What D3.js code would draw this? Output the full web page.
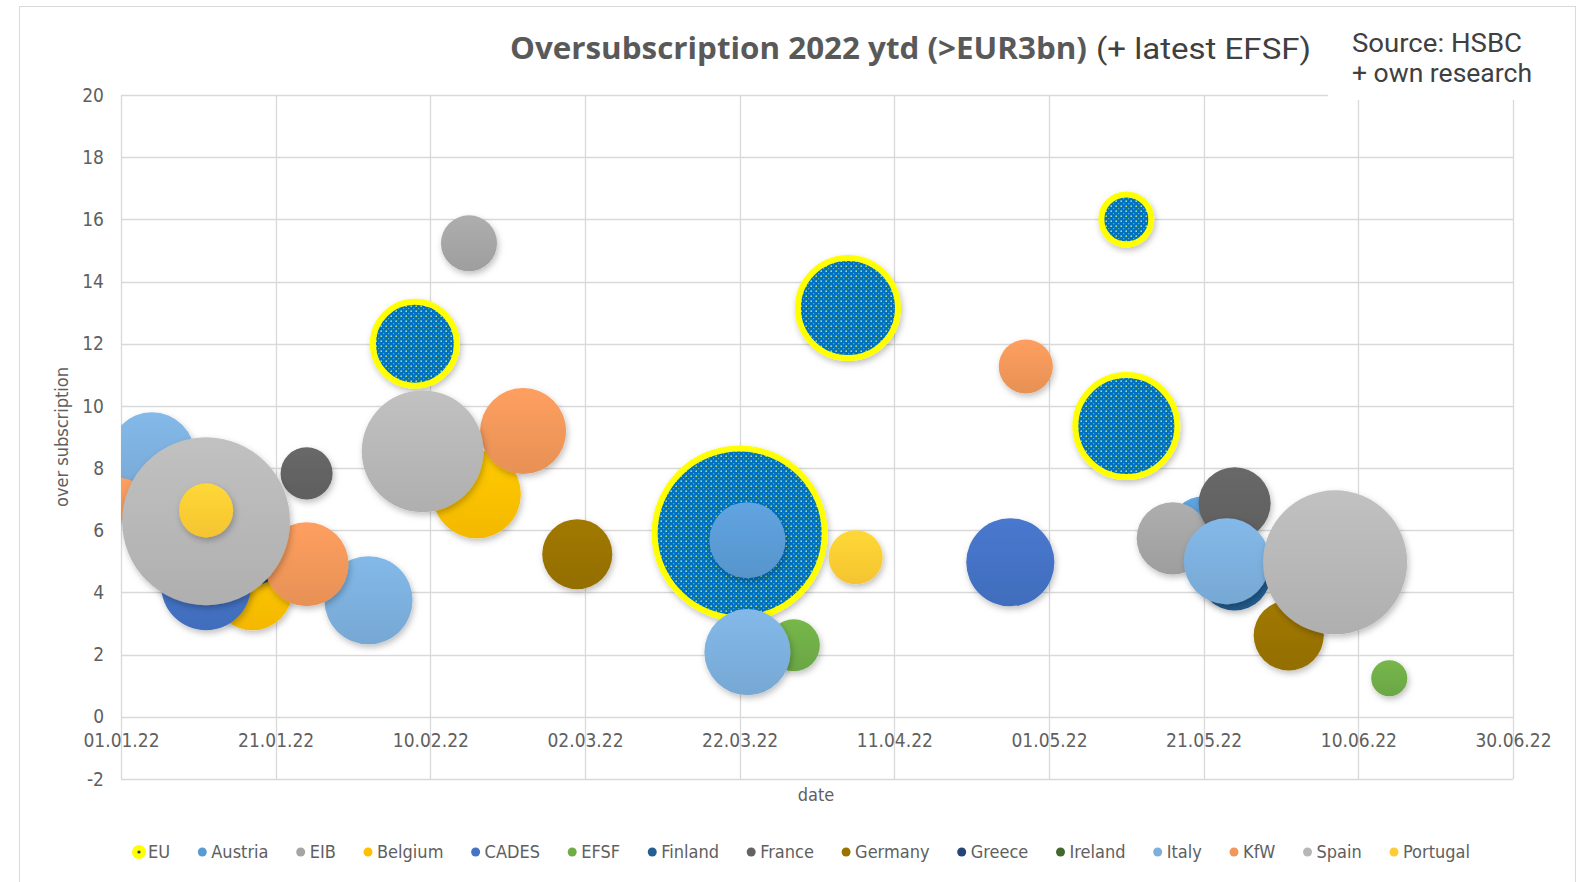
<!DOCTYPE html>
<html>
<head>
<meta charset="utf-8">
<script src="https://cdn.jsdelivr.net/npm/d3@7"></script>
<style>
  body { margin: 0; background: #fff; }
  svg { display: block; }
</style>
</head>
<body>
<script>
// series, in legend / drawing order
var seriesNames = ["EU", "Austria", "EIB", "Belgium", "CADES", "EFSF", "Finland", "France",
  "Germany", "Greece", "Ireland", "Italy", "KfW", "Spain", "Portugal"];

// one entry per bubble
var bubbleSeries = ["EU", "EU", "EU", "EU", "EU",
  "Austria", "Austria",
  "EIB", "EIB",
  "Belgium", "Belgium",
  "CADES", "CADES",
  "EFSF", "EFSF",
  "Finland",
  "France", "France",
  "Germany", "Germany",
  "Greece",
  "Italy", "Italy", "Italy", "Italy",
  "KfW", "KfW", "KfW", "KfW",
  "Spain", "Spain", "Spain",
  "Portugal", "Portugal"];
var bubbleDates = ["08.02.22", "22.03.22", "05.04.22", "11.05.22", "11.05.22",
  "23.03.22", "21.05.22",
  "15.02.22", "17.05.22",
  "18.01.22", "16.02.22",
  "12.01.22", "26.04.22",
  "29.03.22", "14.06.22",
  "25.05.22",
  "25.01.22", "25.05.22",
  "01.03.22", "01.06.22",
  "19.01.22",
  "05.01.22", "02.02.22", "23.03.22", "24.05.22",
  "01.01.22", "25.01.22", "22.02.22", "28.04.22",
  "12.01.22", "09.02.22", "07.06.22",
  "12.01.22", "06.04.22"];
var bubbleValues = [12.0, 5.9, 13.15, 16.0, 9.35,
  5.68, 6.0,
  15.23, 5.74,
  4.07, 7.16,
  4.23, 4.97,
  2.3, 1.24,
  4.58,
  7.83, 6.87,
  5.23, 2.62,
  4.77,
  8.41, 3.75, 2.08, 5.0,
  7.0, 4.91, 9.19, 11.27,
  6.29, 8.54, 4.97,
  6.64, 5.13];
var bubbleSizes = [19.5, 80, 27.7, 6.9, 28.8,
  16, 12.8,
  8.7, 14.4,
  17.7, 21.5,
  22.4, 21.5,
  7.5, 3.6,
  14.4,
  7.5, 14.4,
  13.6, 13.6,
  2.5,
  20.5, 21.5, 20.5, 20.5,
  5, 19.5, 20.5, 8.1,
  78, 41, 57.4,
  8.1, 8.1];

var xTickLabels = ["01.01.22", "21.01.22", "10.02.22", "02.03.22", "22.03.22",
  "11.04.22", "01.05.22", "21.05.22", "10.06.22", "30.06.22"];
var yTickValues = [-2, 0, 2, 4, 6, 8, 10, 12, 14, 16, 18, 20];

// excel-ish colours
var colors = {
  "EU": "#0070c0", "Austria": "#5b9bd5", "EIB": "#a5a5a5", "Belgium": "#ffc000",
  "CADES": "#4472c4", "EFSF": "#70ad47", "Finland": "#255e91", "France": "#636363",
  "Germany": "#997300", "Greece": "#264478", "Ireland": "#43682b", "Italy": "#7cafdd",
  "KfW": "#f1975a", "Spain": "#b7b7b7", "Portugal": "#ffcd33"
};

var width = 1584, height = 882;
var parse = d3.timeParse("%d.%m.%y");
var labelFont = "'Liberation Sans Narrow','DejaVu Sans Condensed','Liberation Sans',sans-serif";

var x = d3.scaleTime()
  .domain([parse(xTickLabels[0]), parse(xTickLabels[xTickLabels.length - 1])])
  .range([121, 1513]);
var y = d3.scaleLinear().domain([-2, 20]).range([779, 95]);
var r = d3.scaleSqrt().domain([0, 80]).range([0, 85]);

var svg = d3.select("body").append("svg")
  .attr("width", width).attr("height", height);

var defs = svg.append("defs");

// soft shadow under bubbles
var shadow = defs.append("filter").attr("id", "shadow")
  .attr("x", "-30%").attr("y", "-30%").attr("width", "160%").attr("height", "160%");
shadow.append("feDropShadow").attr("dx", 1.5).attr("dy", 3).attr("stdDeviation", 3)
  .attr("flood-color", "#000").attr("flood-opacity", 0.25);

// top-light gradient per series
seriesNames.forEach(function(s, i) {
  var g = defs.append("linearGradient").attr("id", "grad" + i)
    .attr("x1", 0).attr("y1", 0).attr("x2", 0).attr("y2", 1);
  g.append("stop").attr("offset", "0%").attr("stop-color", d3.color(colors[s]).brighter(0.15));
  g.append("stop").attr("offset", "100%").attr("stop-color", d3.color(colors[s]).darker(0.12));
});

// EU dotted fill
var pat = defs.append("pattern").attr("id", "euDots")
  .attr("patternUnits", "userSpaceOnUse").attr("width", 5).attr("height", 5);
pat.append("rect").attr("width", 5).attr("height", 5).attr("fill", "#0070c0");
pat.append("circle").attr("cx", 1.2).attr("cy", 1.2).attr("r", 0.85).attr("fill", "#b4e27a");
pat.append("circle").attr("cx", 3.7).attr("cy", 3.7).attr("r", 0.6).attr("fill", "#6fc8c0");

defs.append("clipPath").attr("id", "plotClip")
  .append("rect").attr("x", 121).attr("y", 95).attr("width", 1513 - 121).attr("height", 779 - 95);

// outer chart border
svg.append("rect").attr("x", 19.5).attr("y", 6.5).attr("width", 1556).attr("height", 900)
  .attr("fill", "#fff").attr("stroke", "#d9d9d9");

// gridlines
svg.append("g").selectAll("line").data(yTickValues).join("line")
  .attr("x1", 121).attr("x2", 1513)
  .attr("y1", function(d) { return Math.round(y(d)) + 0.5; })
  .attr("y2", function(d) { return Math.round(y(d)) + 0.5; })
  .attr("stroke", "#d9d9d9").attr("stroke-width", 1.3);
svg.append("g").selectAll("line").data(xTickLabels).join("line")
  .attr("x1", function(d) { return Math.round(x(parse(d))) + 0.5; })
  .attr("x2", function(d) { return Math.round(x(parse(d))) + 0.5; })
  .attr("y1", 95).attr("y2", 779)
  .attr("stroke", "#d9d9d9").attr("stroke-width", 1.3);

// y axis labels
var yAxis = svg.append("g").attr("transform", "translate(104,0)")
  .call(d3.axisLeft(y).tickValues(yTickValues).tickSize(0).tickPadding(0));
yAxis.select(".domain").remove();
yAxis.selectAll("text").attr("font-family", labelFont).attr("font-size", 19)
  .attr("fill", "#606060").text(function(d) { return d; });

// x axis labels sit on the 0 line like excel
var xAxis = svg.append("g").attr("transform", "translate(0," + y(0) + ")")
  .call(d3.axisBottom(x).tickValues(xTickLabels.map(parse)).tickSize(0).tickPadding(17)
    .tickFormat(d3.timeFormat("%d.%m.%y")));
xAxis.select(".domain").remove();
xAxis.selectAll("text").attr("font-family", labelFont).attr("font-size", 19).attr("fill", "#606060");

// bubbles
var bubbles = bubbleSeries.map(function(s, i) {
  return { series: s, si: seriesNames.indexOf(s), date: parse(bubbleDates[i]),
    value: bubbleValues[i], size: bubbleSizes[i] };
});
bubbles.sort(function(a, b) { return a.si - b.si; });

var plot = svg.append("g").attr("clip-path", "url(#plotClip)");
plot.selectAll("circle").data(bubbles).join("circle")
  .attr("cx", function(d) { return x(d.date); })
  .attr("cy", function(d) { return y(d.value); })
  .attr("r", function(d) { return r(d.size); })
  .attr("fill", function(d) { return d.series == "EU" ? "url(#euDots)" : "url(#grad" + d.si + ")"; })
  .attr("stroke", function(d) { return d.series == "EU" ? "#ffff00" : "none"; })
  .attr("stroke-width", function(d) { return d.series == "EU" ? 6 : 0; })
  .attr("filter", "url(#shadow)");

// white box behind the source note hides the grid corner
svg.append("rect").attr("x", 1328).attr("y", 10).attr("width", 212).attr("height", 90).attr("fill", "#fff");

// titles
svg.append("text").attr("x", 510).attr("y", 59)
  .attr("font-family", "'Liberation Sans Narrow','Open Sans',sans-serif").attr("font-weight", "bold")
  .attr("font-size", 30).attr("fill", "#595959")
  .attr("textLength", 577).attr("lengthAdjust", "spacingAndGlyphs")
  .text("Oversubscription 2022 ytd (>EUR3bn)");
svg.append("text").attr("x", 1096).attr("y", 59)
  .attr("font-family", "Roboto,sans-serif").attr("font-size", 30).attr("fill", "#404040")
  .attr("textLength", 215).attr("lengthAdjust", "spacingAndGlyphs")
  .text("(+ latest EFSF)");

svg.append("text").attr("x", 1352).attr("y", 52)
  .attr("font-family", "Roboto,sans-serif").attr("font-size", 25).attr("fill", "#404040")
  .attr("textLength", 170).attr("lengthAdjust", "spacingAndGlyphs")
  .text("Source: HSBC");
svg.append("text").attr("x", 1352).attr("y", 82)
  .attr("font-family", "Roboto,sans-serif").attr("font-size", 25).attr("fill", "#404040")
  .attr("textLength", 180).attr("lengthAdjust", "spacingAndGlyphs")
  .text("+ own research");

svg.append("text").attr("x", 816).attr("y", 801).attr("text-anchor", "middle")
  .attr("font-family", labelFont).attr("font-size", 18).attr("fill", "#606060").text("date");
svg.append("text").attr("transform", "translate(68,437) rotate(-90)").attr("text-anchor", "middle")
  .attr("font-family", labelFont).attr("font-size", 18).attr("fill", "#606060").text("over subscription");

// legend, spread between the two ends like the excel one
var legend = svg.append("g");
var items = legend.selectAll("g").data(seriesNames).join("g");
items.append("text").attr("font-family", labelFont).attr("font-size", 18).attr("fill", "#606060")
  .attr("dy", "0.35em").text(function(d) { return d; });
var widths = [];
items.select("text").each(function() { widths.push(this.getComputedTextLength()); });
var start = 133, end = 1470, markW = 15;
var total = d3.sum(widths) + markW * seriesNames.length;
var gap = (end - start - total) / (seriesNames.length - 1);
var pos = start;
items.attr("transform", function(d, i) {
  var t = "translate(" + pos + ",852)";
  pos += markW + widths[i] + gap;
  return t;
});
items.select("text").attr("x", markW);
items.insert("circle", "text")
  .attr("cx", 6).attr("cy", 0)
  .attr("r", function(d) { return d == "EU" ? 7 : 4.5; })
  .attr("fill", function(d) { return d == "EU" ? "#ffff00" : colors[d]; });
items.filter(function(d) { return d == "EU"; }).append("circle")
  .attr("cx", 6).attr("r", 1.6).attr("fill", "#1f3864");
</script>
</body>
</html>
